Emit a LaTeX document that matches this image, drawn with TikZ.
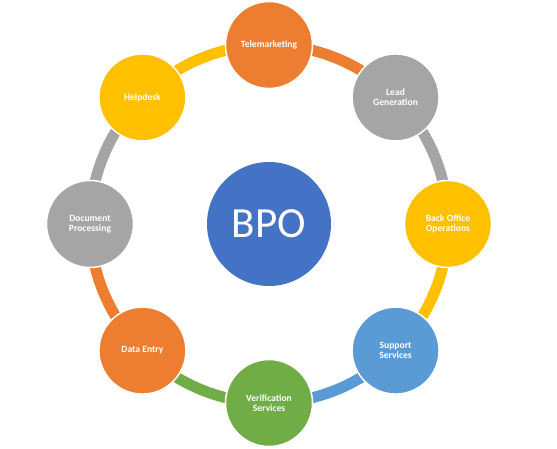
\documentclass[tikz,border=0pt]{standalone}
\usepackage{fontspec}
\setmainfont{Carlito}
\usetikzlibrary{backgrounds}
\definecolor{bpoblue}{HTML}{4472C4}
\definecolor{offorange}{HTML}{ED7D31}
\definecolor{offgray}{HTML}{A5A5A5}
\definecolor{offyellow}{HTML}{FFC000}
\definecolor{offblue}{HTML}{5B9BD5}
\definecolor{offgreen}{HTML}{70AD47}

\begin{document}
\begin{tikzpicture}[x=1pt,y=1pt,
    service/.style={circle,draw=white,line width=1.5pt,minimum size=87pt,inner sep=0pt,
        text=white,align=center,font=\fontsize{9.6}{10.2}\selectfont\bfseries},
    ring/.style={line width=11pt}]
    \useasboundingbox (-269,-224) rectangle (288,224);

    \node[circle,fill=bpoblue,minimum size=124pt,inner sep=0pt,text=white,
        font=\fontsize{43}{43}\selectfont] (bpo) at (0,0) {BPO};

    \node[service,fill=offorange] (tele) at (90:179) {Telemarketing};
    \node[service,fill=offgray] (lead) at (45:179) {Lead\\Generation};
    \node[service,fill=offyellow] (backoffice) at (0:179) {Back Office\\Operations};
    \node[service,fill=offblue] (support) at (-45:179) {Support\\Services};
    \node[service,fill=offgreen] (verify) at (-90:179) {Verification\\Services};
    \node[service,fill=offorange] (dataentry) at (-135:179) {Data Entry};
    \node[service,fill=offgray] (docproc) at (180:179) {Document\\Processing};
    \node[service,fill=offyellow] (helpdesk) at (135:179) {Helpdesk};

    % ring pieces behind the circles
    \begin{scope}[on background layer]
        \foreach \n/\a/\c in {tele/90/offorange,lead/45/offgray,backoffice/0/offyellow,
            support/-45/offblue,verify/-90/offgreen,dataentry/-135/offorange,
            docproc/180/offgray,helpdesk/135/offyellow} {
            \draw[ring,\c] (\n.center) arc[start angle=\a,delta angle=-45,radius=179];
        }
    \end{scope}
\end{tikzpicture}
\end{document}
